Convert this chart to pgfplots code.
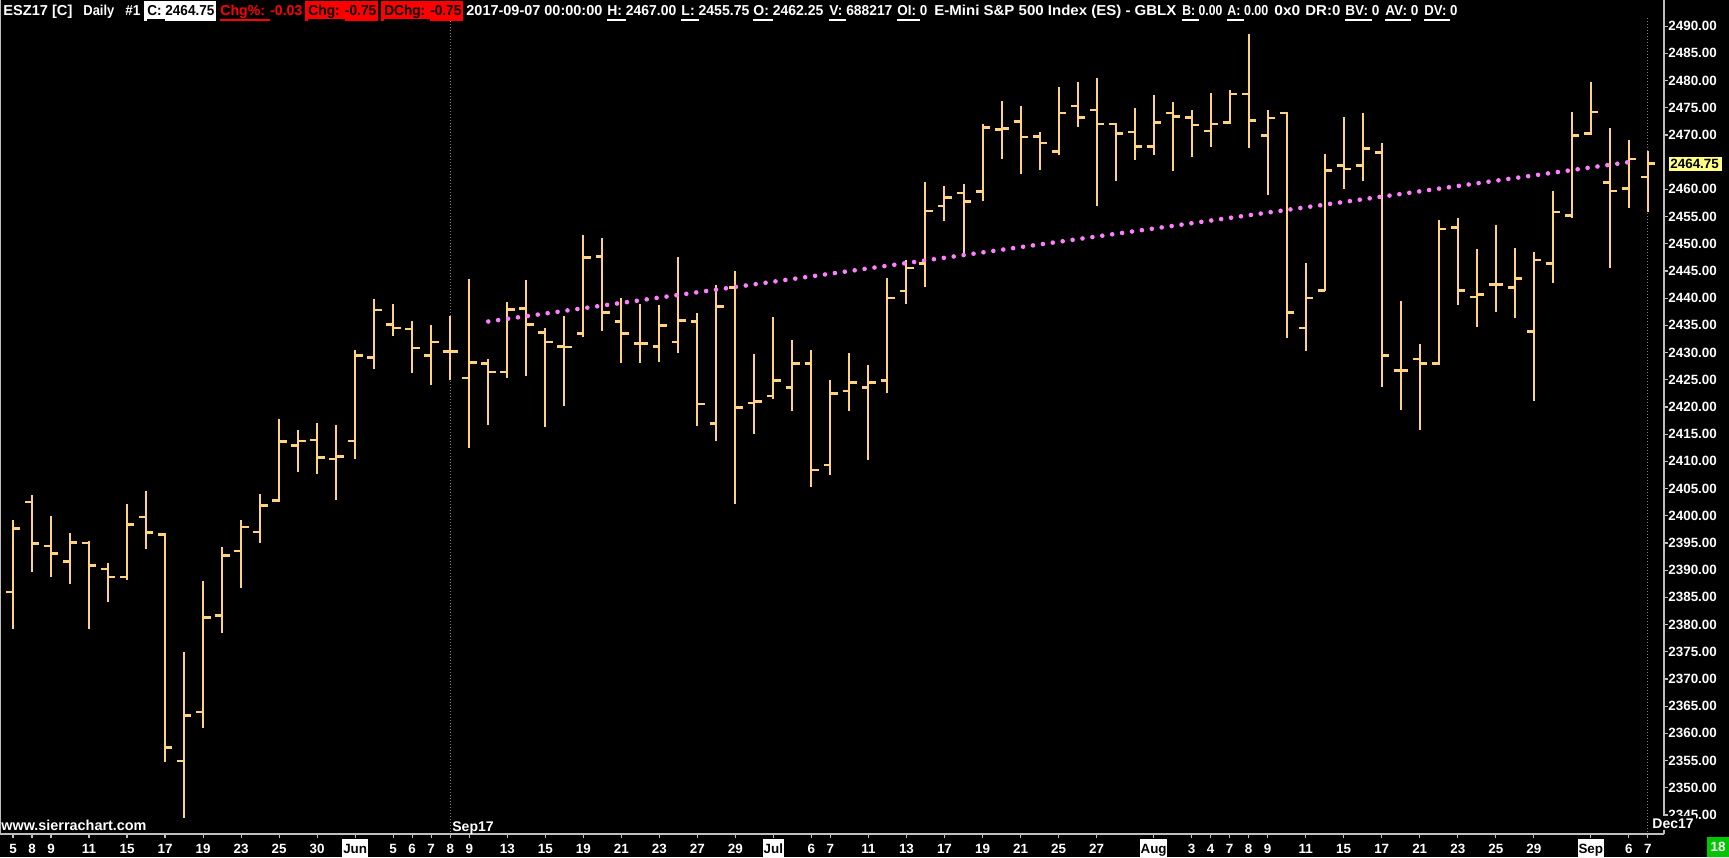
\documentclass[border=0pt]{standalone}
\usepackage{graphicx}
\usepackage{pgfplots}
\pgfplotsset{compat=1.18}
\usepackage{pgfplotstable}
\usepackage{fontspec}
\setmainfont{Liberation Sans}

\definecolor{barcol}{RGB}{255,210,125}
\definecolor{regcol}{RGB}{255,125,255}
\definecolor{axgray}{RGB}{190,190,190}
\definecolor{vgray}{RGB}{125,125,125}
\definecolor{hlyellow}{RGB}{255,255,128}
\definecolor{boxgreen}{RGB}{0,200,0}
\definecolor{chgred}{RGB}{255,0,0}

% bar ticks: close to the right, open to the left
\pgfdeclareplotmark{closetick}{\pgfpathmoveto{\pgfpointorigin}\pgfpathlineto{\pgfpoint{3.7pt}{0pt}}\pgfusepathqstroke}
\pgfdeclareplotmark{opentick}{\pgfpathmoveto{\pgfpoint{-3.4pt}{0pt}}\pgfpathlineto{\pgfpointorigin}\pgfusepathqstroke}

% daily OHLC, ESZ17, 5 May - 7 Sep 2017 (bar index i)
\pgfplotstableread{
i o h l c
0 2386.0 2399.2 2379.1 2397.7
1 2402.5 2403.8 2389.7 2394.9
2 2394.4 2400.0 2388.8 2393.1
3 2391.6 2396.9 2387.5 2395.1
4 2395.0 2395.3 2379.1 2390.9
5 2390.2 2391.4 2384.2 2388.7
6 2388.7 2402.2 2388.1 2398.4
7 2399.8 2404.5 2393.8 2396.9
8 2396.5 2396.8 2354.8 2357.4
9 2354.9 2374.9 2344.5 2363.3
10 2363.9 2388.0 2361.0 2381.3
11 2381.7 2394.3 2378.4 2392.7
12 2393.5 2399.3 2386.8 2397.9
13 2397.0 2404.0 2394.9 2401.9
14 2402.8 2417.7 2402.5 2413.6
15 2412.9 2415.8 2408.1 2413.7
16 2413.9 2417.0 2407.7 2410.7
17 2410.4 2416.7 2402.8 2410.9
18 2413.7 2430.4 2410.5 2429.5
19 2429.1 2439.8 2427.0 2437.8
20 2435.2 2438.9 2433.1 2434.5
21 2434.3 2435.8 2426.3 2430.8
22 2429.5 2435.0 2424.1 2431.9
23 2430.2 2436.7 2425.0 2430.2
24 2425.3 2443.5 2412.5 2428.2
25 2428.0 2428.8 2416.7 2426.4
26 2426.4 2439.2 2425.4 2437.9
27 2438.1 2443.3 2425.7 2435.2
28 2433.7 2434.5 2416.4 2431.9
29 2431.1 2436.7 2420.2 2431.0
30 2433.5 2451.6 2432.8 2447.5
31 2447.7 2451.0 2434.0 2437.4
32 2435.7 2440.0 2428.1 2433.5
33 2431.7 2438.9 2428.1 2431.7
34 2431.1 2438.7 2428.3 2435.0
35 2431.9 2447.5 2430.0 2435.9
36 2435.7 2437.2 2416.5 2420.5
37 2417.0 2442.5 2413.8 2438.5
38 2442.0 2445.0 2402.2 2419.9
39 2420.7 2429.7 2415.1 2421.0
40 2422.0 2436.5 2421.5 2424.9
41 2423.6 2432.3 2419.3 2428.0
42 2428.0 2430.5 2405.3 2408.4
43 2409.3 2425.0 2407.5 2422.5
44 2422.9 2429.9 2419.3 2424.5
45 2423.6 2427.7 2410.3 2424.5
46 2424.9 2443.7 2422.6 2440.0
47 2441.3 2447.0 2439.0 2445.5
48 2446.4 2461.3 2442.1 2456.0
49 2456.9 2460.6 2454.1 2458.5
50 2459.3 2461.0 2448.2 2457.8
51 2459.6 2472.0 2457.9 2471.4
52 2471.0 2476.2 2465.6 2471.2
53 2472.5 2475.3 2462.9 2469.6
54 2469.7 2470.5 2463.6 2468.5
55 2467.0 2478.8 2466.4 2474.0
56 2475.3 2479.7 2471.5 2473.2
57 2474.6 2480.5 2457.0 2472.0
58 2472.0 2472.1 2461.6 2470.3
59 2470.5 2475.0 2465.3 2467.9
60 2467.9 2477.3 2466.3 2472.3
61 2474.0 2476.0 2463.4 2473.4
62 2473.2 2474.6 2466.0 2471.8
63 2470.7 2477.7 2467.8 2472.0
64 2472.3 2478.3 2472.0 2477.5
65 2477.5 2488.5 2467.6 2472.7
66 2469.9 2474.6 2459.0 2473.1
67 2474.0 2474.2 2432.7 2437.4
68 2434.5 2446.5 2430.3 2440.0
69 2441.4 2466.5 2441.4 2463.5
70 2464.4 2473.3 2460.1 2463.7
71 2464.4 2474.0 2461.6 2467.5
72 2466.8 2468.5 2423.7 2429.5
73 2426.7 2439.5 2419.5 2426.7
74 2428.8 2431.6 2415.8 2428.0
75 2428.0 2454.4 2427.7 2452.7
76 2453.0 2454.7 2438.8 2441.4
77 2440.2 2449.0 2434.6 2440.7
78 2442.5 2453.4 2437.5 2442.5
79 2442.0 2449.2 2436.4 2443.6
80 2433.9 2448.5 2421.0 2447.0
81 2446.4 2459.7 2442.8 2455.8
82 2455.2 2474.2 2454.8 2469.9
83 2470.3 2479.7 2470.0 2474.2
84 2461.3 2471.2 2445.6 2459.7
85 2460.2 2469.1 2456.6 2465.6
86 2462.25 2467.0 2455.75 2464.75
}\ohlc

\newcommand\hf{\fontsize{7.2pt}{8pt}\selectfont\bfseries}
\newcommand\af{\fontsize{6.7pt}{7pt}\selectfont\bfseries}
\newcommand\ul[1]{\setbox0=\hbox{#1}\rlap{\rule[-2.8pt]{\wd0}{0.9pt}}\box0\relax}
\newcommand\mo[1]{{\setlength\fboxsep{0pt}\colorbox{white}{\textcolor{black}{\rule[-2.75pt]{0pt}{10pt}\hspace{0.4pt}#1\hspace{0.4pt}}}}}
% squeeze a header item to a width given in px (1 px = 0.5pt)
\newcommand\fitto[2]{\setbox2=\hbox{#2}\pgfmathsetmacro\sfac{0.5*#1/\the\wd2}\scalebox{\sfac}[1]{\box2}}
\newcommand\hn[4][white]{\node[anchor=base west, inner sep=0pt, text=#1, font=\hf] at (#2,15.5) {\fitto{#3}{#4}};}

\begin{document}
\begin{tikzpicture}
\useasboundingbox (0,0) rectangle (864.5pt,-428.5pt);
\fill[black] (0,0) rectangle (864.5pt,-428.5pt);

% pixel scope: 1 px = 0.5pt, y downwards
\begin{scope}[x=0.5pt,y=-0.5pt]
\draw[vgray, line width=0.5pt, dash pattern=on 0.5pt off 1pt] (450.2,18) -- (450.2,834);
\draw[vgray, line width=0.5pt, dash pattern=on 0.5pt off 1pt] (1647.9,18) -- (1647.9,834);
\draw[axgray, line width=0.7pt] (0.7,0) -- (0.7,834);
\end{scope}

\begin{axis}[
  at={(0pt,-417pt)}, anchor=south west,
  scale only axis, width=832pt, height=417pt,
  xmin=-0.684, xmax=86.85, ymin=2341.49, ymax=2494.8,
  axis x line*=bottom, axis y line*=right,
  axis line style={axgray, line width=0.7pt},
  tick align=outside, major tick length=2pt,
  tick style={axgray, line width=0.6pt},
  xtick={0,1,2,4,6,8,10,12,14,16,18,20,21,22,23,24,26,28,30,32,34,36,38,40,42,43,45,47,49,51,53,55,57,60,62,63,64,65,66,68,70,72,74,76,78,80,83,85,86},
  xticklabels={5,8,9,11,15,17,19,23,25,30,\mo{Jun},5,6,7,8,9,13,15,19,21,23,27,29,\mo{Jul},6,7,11,13,17,19,21,25,27,\mo{Aug},3,4,7,8,9,11,15,17,21,23,25,29,\mo{Sep},6,7},
  ytick={2345,2350,2355,2360,2365,2370,2375,2380,2385,2390,2395,2400,2405,2410,2415,2420,2425,2430,2435,2440,2445,2450,2455,2460,2470,2475,2480,2485,2490},
  scaled y ticks=false,
  yticklabel style={/pgf/number format/fixed, /pgf/number format/fixed zerofill,
    /pgf/number format/precision=2, /pgf/number format/1000 sep={},
    /pgf/number format/assume math mode=true},
  yticklabel style={anchor=west, inner sep=0pt, font=\af, text=white},
  xticklabel style={anchor=base, inner sep=0pt, font=\af, text=white, yshift=-7.5pt},
]
\addplot[only marks, mark=closetick, color=barcol, mark options={line width=1.3pt},
  error bars/.cd, y dir=both, y explicit, error mark=none,
  error bar style={barcol, line width=1pt}]
  table[x=i, y=c, y error plus expr=\thisrow{h}-\thisrow{c}, y error minus expr=\thisrow{c}-\thisrow{l}] {\ohlc};
\addplot[only marks, mark=opentick, color=barcol, mark options={line width=1.3pt}]
  table[x=i, y=o] {\ohlc};
% linear regression line
\addplot[regcol, line width=2.3pt, line cap=round, dash pattern=on 0pt off 5pt] coordinates {(25,2435.7) (85,2465.0)};
\end{axis}

\begin{scope}[x=0.5pt,y=-0.5pt]
% header line: x start, width in px, text
\hn{3}{69}{ESZ17 [C]}
\hn{83}{31}{Daily}
\hn{125}{15}{\#1}
\fill[white] (144,1) rectangle (216,21);
\hn[black]{147}{67}{\ul{C: }2464.75}
\hn[chgred]{220}{82}{\ul{Chg\%: }-0.03}
\fill[chgred] (305,1) rectangle (378,21);
\hn[black]{308}{68}{\ul{Chg: }-0.75}
\fill[chgred] (381,1) rectangle (463,21);
\hn[black]{384}{77}{\ul{DChg: }-0.75}
\hn{466}{136}{2017-09-07 00:00:00}
\hn{607}{69}{\ul{H: }2467.00}
\hn{681}{68}{\ul{L: }2455.75}
\hn{753}{70}{\ul{O: }2462.25}
\hn{829}{63}{\ul{V: }688217}
\hn{897}{30}{\ul{OI: }0}
\hn{934}{242}{E-Mini S\&P 500 Index (ES) - GBLX}
\hn{1182}{40}{\ul{B: }0.00}
\hn{1227}{41}{\ul{A: }0.00}
\hn{1274}{26}{0x0}
\hn{1305}{35}{DR:0}
\hn{1345}{34}{\ul{BV: }0}
\hn{1385}{33}{\ul{AV: }0}
\hn{1424}{33}{\ul{DV: }0}
% last price on the price scale
\fill[hlyellow] (1669,156.5) rectangle (1722,170.5);
\node[anchor=base west, inner sep=0pt, font=\af, text=black] at (1670,168.3) {2464.75};
% footer texts
\node[anchor=base west, inner sep=0pt, font=\fontsize{7.2pt}{8pt}\selectfont\bfseries, text=white] at (1,830) {www.sierrachart.com};
\node[anchor=base west, inner sep=0pt, font=\fontsize{7.0pt}{8pt}\selectfont\bfseries, text=white] at (452,831) {Sep17};
\node[anchor=base west, inner sep=1pt, fill=black, font=\fontsize{7.0pt}{8pt}\selectfont\bfseries, text=white] at (1650,828) {Dec17};
\fill[boxgreen] (1707,837) rectangle (1729,857);
\node[inner sep=0pt, font=\af, text=white] at (1718,847) {18};
\end{scope}
\end{tikzpicture}
\end{document}
